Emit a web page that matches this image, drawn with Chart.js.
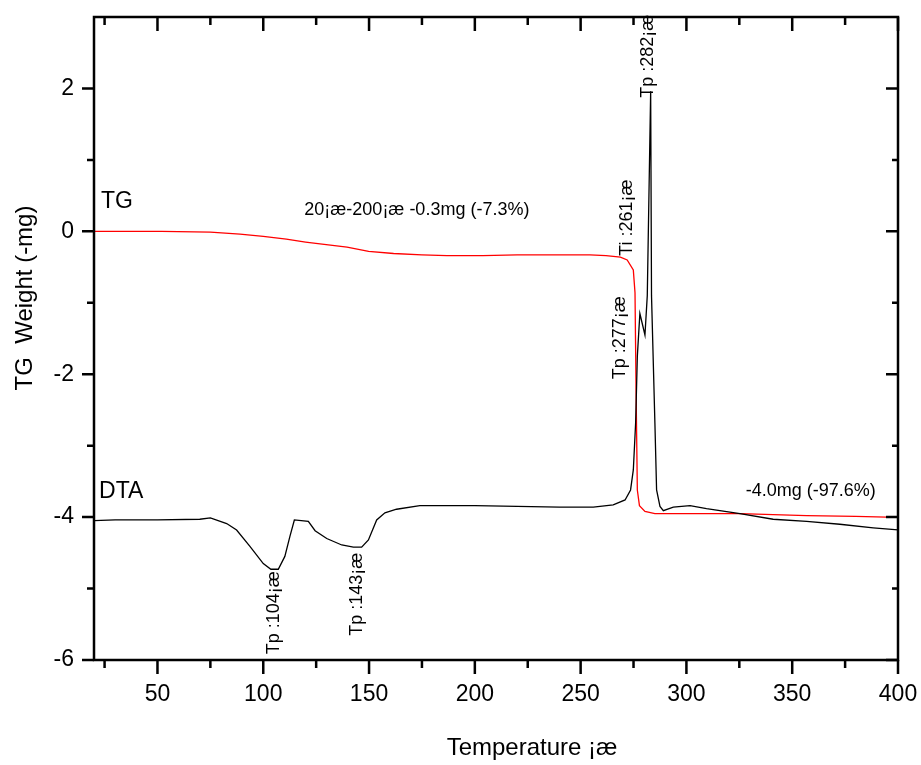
<!DOCTYPE html>
<html>
<head>
<meta charset="utf-8">
<script src="https://cdn.jsdelivr.net/npm/chart.js@4.4.0/dist/chart.umd.min.js"></script>
<style>
  body { margin: 0; background: #fff; }
  canvas { display: block; }
</style>
</head>
<body>
<canvas id="Grafico" width="921" height="765"></canvas>
<script>
// datos (temperatura en ¡æ, peso en -mg)
const tg_temp = [20, 52, 75, 89, 100, 110.9, 120, 127.8, 139.6, 149.8, 161.6, 175, 186.8, 203.8, 220, 237.4, 254.4, 262, 268.8, 272, 274.9, 275.7, 276.2, 276.8, 277.8, 280.4, 285.1, 293.8, 306.7, 325.3, 356.8, 380, 394.6, 400];
const tg_valor = [0, 0, -0.01, -0.04, -0.07, -0.11, -0.15, -0.18, -0.22, -0.28, -0.31, -0.33, -0.34, -0.34, -0.33, -0.33, -0.33, -0.34, -0.36, -0.40, -0.54, -0.86, -2.22, -3.62, -3.84, -3.92, -3.95, -3.95, -3.95, -3.95, -3.98, -3.99, -4.0, -4.0];

const dta_temp = [20, 30, 50, 70, 75, 82.7, 87.4, 93.7, 100, 103.6, 107.1, 110.2, 112.6, 114.7, 121.3, 124.5, 130, 137.1, 142.6, 146.5, 149.7, 153.6, 157.5, 163, 174, 200, 240, 256, 265.4, 271, 273.6, 274.9, 276, 276.8, 278, 280.4, 281.5, 283.1, 283.5, 285.1, 285.9, 287.5, 289.1, 293.8, 301.7, 309.5, 325.3, 341, 356.8, 372.5, 388.3, 400];
const dta_valor = [-4.05, -4.04, -4.04, -4.03, -4.01, -4.09, -4.18, -4.41, -4.65, -4.73, -4.73, -4.55, -4.27, -4.04, -4.06, -4.19, -4.30, -4.39, -4.42, -4.42, -4.32, -4.04, -3.94, -3.89, -3.84, -3.84, -3.86, -3.86, -3.83, -3.76, -3.62, -3.34, -2.68, -1.75, -1.15, -1.45, -0.9, 1.96, -0.9, -2.68, -3.62, -3.85, -3.91, -3.86, -3.84, -3.88, -3.95, -4.03, -4.06, -4.10, -4.15, -4.18];

const ticks_x = [50, 100, 150, 200, 250, 300, 350, 400];
const ticks_y = [-6, -4, -2, 0, 2];

// textos: [texto, temperatura, valor, vertical]
const notas = [
    ['TG', 23.3, 0.41, false],
    ['DTA', 22.4, -3.65, false],
    ['20¡æ-200¡æ -0.3mg (-7.3%)', 172.6, 0.30, false],
    ['-4.0mg (-97.6%)', 358.8, -3.63, false],
    ['Tp :104¡æ', 105.1, -5.34, true],
    ['Tp :143¡æ', 144.1, -5.08, true],
    ['Tp :277¡æ', 268.6, -1.49, true],
    ['Ti :261¡æ', 271.8, 0.19, true],
    ['Tp :282¡æ', 282.0, 2.45, true]
];

const fuente = '"Liberation Sans", Arial, sans-serif';

const marco = {
    id: 'marco',
    afterDraw(chart){
        const ctx = chart.ctx;
        const a = chart.chartArea;
        const x = chart.scales.x;
        const y = chart.scales.y;
        ctx.save();
        ctx.strokeStyle = '#000';
        ctx.lineWidth = 2.5;
        ctx.strokeRect(a.left, a.top, a.right - a.left, a.bottom - a.top);
        ctx.beginPath();
        for(let t = 25; t <= 400; t += 25){
            const px = x.getPixelForValue(t);
            const largo = (t % 50 === 0) ? 14 : 8;
            ctx.moveTo(px, a.bottom);
            ctx.lineTo(px, a.bottom + largo);
            ctx.moveTo(px, a.top);
            ctx.lineTo(px, a.top + largo);
        }
        for(let v = -6; v <= 2; v += 1){
            const py = y.getPixelForValue(v);
            const mayor = (v % 2 === 0);
            ctx.moveTo(a.left - (mayor ? 12 : 7), py);
            ctx.lineTo(a.left, py);
            ctx.moveTo(a.right - (mayor ? 12 : 6), py);
            ctx.lineTo(a.right, py);
        }
        ctx.stroke();

        // titulos de los ejes
        ctx.fillStyle = '#000';
        ctx.font = '24px ' + fuente;
        ctx.textAlign = 'center';
        ctx.textBaseline = 'middle';
        ctx.fillText('Temperature ¡æ', 532, 748);
        ctx.save();
        ctx.translate(25, 298);
        ctx.rotate(-Math.PI / 2);
        ctx.fillText('TG  Weight (-mg)', 0, 0);
        ctx.restore();

        // anotaciones
        for(let i = 0; i < notas.length; i++){
            const n = notas[i];
            const px = x.getPixelForValue(n[1]);
            const py = y.getPixelForValue(n[2]);
            if(n[3]){
                ctx.font = '18px ' + fuente;
                ctx.save();
                ctx.translate(px, py);
                ctx.rotate(-Math.PI / 2);
                ctx.textAlign = 'center';
                ctx.fillText(n[0], 0, 0);
                ctx.restore();
            } else if(n[0] === 'TG' || n[0] === 'DTA'){
                ctx.font = '23px ' + fuente;
                ctx.textAlign = 'left';
                ctx.fillText(n[0], px, py);
            } else {
                ctx.font = '18px ' + fuente;
                ctx.textAlign = 'center';
                ctx.fillText(n[0], px, py);
            }
        }
        ctx.restore();
    }
};

const ctx = document.getElementById('Grafico');
new Chart(ctx, {
    type: 'line',
    data: {
        datasets: [{
            label: 'DTA',
            data: dta_temp.map((t, i) => ({x: t, y: dta_valor[i]})),
            borderColor: '#000000',
            borderWidth: 1.3,
            pointRadius: 0,
            tension: 0
        }, {
            label: 'TG',
            data: tg_temp.map((t, i) => ({x: t, y: tg_valor[i]})),
            borderColor: '#ff0000',
            borderWidth: 1.3,
            pointRadius: 0,
            tension: 0
        }]
    },
    options: {
        responsive: false,
        animation: false,
        layout: { padding: { left: 0, top: 17, right: 23, bottom: 0 } },
        plugins: {
            legend: { display: false },
            tooltip: { enabled: false }
        },
        scales: {
            x: {
                type: 'linear',
                min: 20,
                max: 400,
                afterBuildTicks: (s) => { s.ticks = ticks_x.map(v => ({value: v})); },
                afterFit: (s) => {
                    s.height = 105;
                    s.paddingLeft = 0;
                    s.paddingRight = 0;
                },
                grid: { display: false, drawTicks: false },
                border: { display: false },
                ticks: { color: '#000', font: { family: fuente, size: 23 }, padding: 21, maxRotation: 0, autoSkip: false }
            },
            y: {
                type: 'linear',
                min: -6,
                max: 3,
                afterBuildTicks: (s) => { s.ticks = ticks_y.map(v => ({value: v})); },
                afterFit: (s) => {
                    s.width = 94;
                    s.paddingTop = 0;
                    s.paddingBottom = 0;
                },
                grid: { display: false, drawTicks: false },
                border: { display: false },
                ticks: { color: '#000', font: { family: fuente, size: 23 }, padding: 20 }
            }
        }
    },
    plugins: [marco]
});
</script>
</body>
</html>
